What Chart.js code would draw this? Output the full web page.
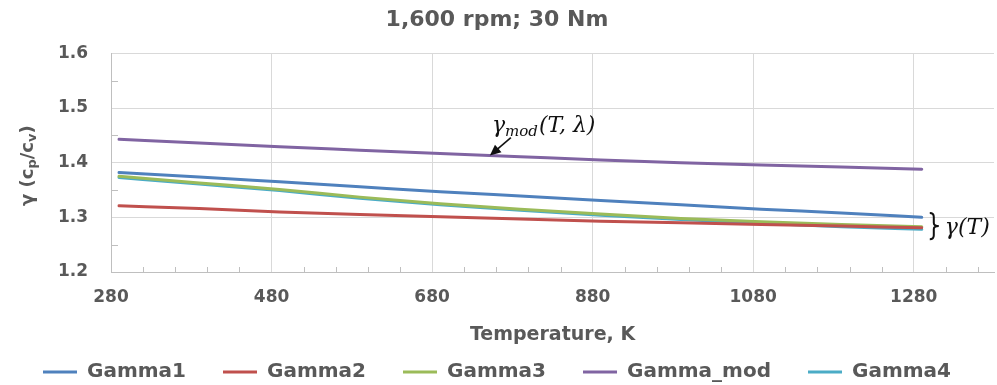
<!DOCTYPE html>
<html>
<head>
<meta charset="utf-8">
<script src="https://cdn.jsdelivr.net/npm/chart.js@4/dist/chart.umd.min.js"></script>
<style>
  html, body { margin: 0; padding: 0; background: #fff; }
  #wrap { width: 997px; height: 385px; position: relative; }
</style>
</head>
<body>
<div id="wrap"><canvas id="gammaChart"></canvas></div>
<script>
// temperatura (K) y relacion de calores especificos
const temperaturas = [290, 390, 490, 590, 690, 790, 890, 990, 1090, 1190, 1290];
const gamma1    = [1.382, 1.374, 1.365, 1.356, 1.347, 1.339, 1.331, 1.323, 1.315, 1.308, 1.300];
const gamma2    = [1.321, 1.316, 1.310, 1.305, 1.301, 1.297, 1.293, 1.290, 1.287, 1.284, 1.281];
const gamma3    = [1.375, 1.363, 1.351, 1.337, 1.325, 1.315, 1.306, 1.298, 1.292, 1.287, 1.283];
const gammaMod  = [1.443, 1.436, 1.429, 1.423, 1.417, 1.411, 1.405, 1.400, 1.396, 1.392, 1.388];
const gamma4    = [1.373, 1.361, 1.349, 1.335, 1.323, 1.313, 1.304, 1.296, 1.289, 1.283, 1.278];

const xTicks = [280, 480, 680, 880, 1080, 1280];
const yTicks = [1.2, 1.3, 1.4, 1.5, 1.6];

const GRIS = '#595959';
const SANS = '"DejaVu Sans", sans-serif';
const SERIF = '"DejaVu Serif", serif';
Chart.defaults.font.family = SANS;

const pts = arr => temperaturas.map((t, i) => ({ x: t, y: arr[i] }));
const serie = (label, data, color) => ({
  label, data: pts(data),
  borderColor: color, backgroundColor: color,
  borderWidth: 3, pointRadius: 0, borderCapStyle: 'round',
  cubicInterpolationMode: 'monotone'
});

// marcas menores en los ejes
const marcasMenores = {
  id: 'marcasMenores',
  afterDraw(chart) {
    const { ctx, scales: { x, y }, chartArea: a } = chart;
    ctx.save();
    ctx.strokeStyle = '#bfbfbf';
    ctx.lineWidth = 1;
    ctx.beginPath();
    for (let t = 320; t < 1380; t += 40) {
      if ((t - 280) % 200 === 0) continue;
      const px = Math.round(x.getPixelForValue(t)) + 0.5;
      ctx.moveTo(px, a.bottom); ctx.lineTo(px, a.bottom - 5);
    }
    for (let v = 1.25; v < 1.6; v += 0.1) {
      const py = Math.round(y.getPixelForValue(v)) + 0.5;
      ctx.moveTo(a.left, py); ctx.lineTo(a.left + 7, py);
    }
    ctx.stroke();
    ctx.restore();
  }
};

// titulo del eje y con subindices
const tituloY = {
  id: 'tituloY',
  afterDraw(chart) {
    const { ctx, chartArea: a } = chart;
    const partes = [['γ (c', 0], ['p', 1], ['/c', 0], ['v', 1], [')', 0]];
    const f0 = 'bold 18px ' + SANS, f1 = 'bold 13px ' + SANS;
    ctx.save();
    let total = 0;
    partes.forEach(([t, s]) => { ctx.font = s ? f1 : f0; total += ctx.measureText(t).width; });
    ctx.translate(28, (a.top + a.bottom) / 2 + 3);
    ctx.rotate(-Math.PI / 2);
    ctx.fillStyle = GRIS;
    ctx.textBaseline = 'middle';
    let cx = -total / 2;
    partes.forEach(([t, s]) => {
      ctx.font = s ? f1 : f0;
      ctx.fillText(t, cx, s ? 5 : 0);
      cx += ctx.measureText(t).width;
    });
    ctx.restore();
  }
};

// etiquetas gamma_mod(T, lambda) y llave gamma(T)
const flechaT = 752, flechaGamma = 1.413;
const llaveT = 1305, llaveSup = 1.308, llaveInf = 1.26;
const anotaciones = {
  id: 'anotaciones',
  afterDatasetsDraw(chart) {
    const { ctx, scales: { x, y } } = chart;
    ctx.save();
    ctx.fillStyle = '#111';
    ctx.strokeStyle = '#111';

    const tx = x.getPixelForValue(flechaT), ty = y.getPixelForValue(flechaGamma);
    const sx = tx + 21, sy = ty - 18;
    const ang = Math.atan2(ty - sy, tx - sx);
    ctx.lineWidth = 1.6;
    ctx.beginPath();
    ctx.moveTo(sx, sy);
    ctx.lineTo(tx - 8 * Math.cos(ang), ty - 8 * Math.sin(ang));
    ctx.stroke();
    ctx.beginPath();
    ctx.moveTo(tx, ty);
    ctx.lineTo(tx - 11 * Math.cos(ang) + 5 * Math.sin(ang), ty - 11 * Math.sin(ang) - 5 * Math.cos(ang));
    ctx.lineTo(tx - 11 * Math.cos(ang) - 5 * Math.sin(ang), ty - 11 * Math.sin(ang) + 5 * Math.cos(ang));
    ctx.closePath();
    ctx.fill();

    let px = tx + 2;
    const base = ty - 24;
    ctx.textBaseline = 'alphabetic';
    ctx.font = 'italic 22px ' + SERIF;
    ctx.fillText('γ', px, base); px += ctx.measureText('γ').width;
    ctx.font = 'italic 15px ' + SERIF;
    ctx.fillText('mod', px, base + 4); px += ctx.measureText('mod').width + 1;
    ctx.font = 'italic 22px ' + SERIF;
    ctx.fillText('(T, λ)', px, base);

    // llave
    const bx = x.getPixelForValue(llaveT);
    const b0 = y.getPixelForValue(llaveSup), b1 = y.getPixelForValue(llaveInf);
    const bm = (b0 + b1) / 2;
    ctx.lineWidth = 2;
    ctx.beginPath();
    ctx.moveTo(bx - 4, b0);
    ctx.quadraticCurveTo(bx, b0, bx, b0 + 4);
    ctx.lineTo(bx, bm - 3);
    ctx.quadraticCurveTo(bx, bm, bx + 5, bm);
    ctx.quadraticCurveTo(bx, bm, bx, bm + 3);
    ctx.lineTo(bx, b1 - 4);
    ctx.quadraticCurveTo(bx, b1, bx - 4, b1);
    ctx.stroke();
    ctx.font = 'italic 22px ' + SERIF;
    ctx.fillText('γ(T)', bx + 11, bm + 8);
    ctx.restore();
  }
};

new Chart(document.getElementById('gammaChart'), {
  type: 'line',
  data: {
    datasets: [
      serie('Gamma1', gamma1, '#4f81bd'),
      serie('Gamma2', gamma2, '#c0504d'),
      serie('Gamma3', gamma3, '#9bbb59'),
      serie('Gamma_mod', gammaMod, '#8064a2'),
      serie('Gamma4', gamma4, '#4bacc6')
    ]
  },
  options: {
    responsive: true,
    maintainAspectRatio: false,
    animation: false,
    layout: { padding: { left: 0, right: 3, top: 0, bottom: -7 } },
    plugins: {
      tooltip: { enabled: false },
      title: {
        display: true,
        text: '1,600 rpm; 30 Nm',
        color: GRIS,
        font: { size: 22, weight: 'bold' },
        padding: { top: 7, bottom: 20 }
      },
      legend: {
        position: 'bottom',
        labels: {
          usePointStyle: true,
          pointStyle: 'line',
          pointStyleWidth: 34,
          padding: 37,
          color: GRIS,
          font: { size: 20, weight: 'bold' }
        }
      }
    },
    scales: {
      x: {
        type: 'linear',
        min: 280, max: 1380,
        afterBuildTicks: s => { s.ticks = xTicks.map(v => ({ value: v })); },
        afterFit: s => { s.height = 385 + 7 - s.chart.legend.height - 272; },
        ticks: { color: GRIS, font: { size: 17, weight: 'bold' }, padding: 15, maxRotation: 0, autoSkip: false, callback: v => String(v) },
        grid: { color: '#d9d9d9', drawTicks: false },
        border: { color: '#bfbfbf' },
        title: {
          display: true,
          text: 'Temperature, K',
          color: GRIS,
          font: { size: 19, weight: 'bold' },
          padding: { top: 0, bottom: -21 }
        }
      },
      y: {
        min: 1.2, max: 1.6,
        afterBuildTicks: s => { s.ticks = yTicks.map(v => ({ value: v })); },
        afterFit: s => { s.width = 111; },
        ticks: { color: GRIS, font: { size: 17, weight: 'bold' }, padding: 23, callback: v => v.toFixed(1) },
        grid: { color: '#d9d9d9', drawTicks: false },
        border: { color: '#bfbfbf' }
      }
    }
  },
  plugins: [marcasMenores, tituloY, anotaciones]
});
</script>
</body>
</html>
